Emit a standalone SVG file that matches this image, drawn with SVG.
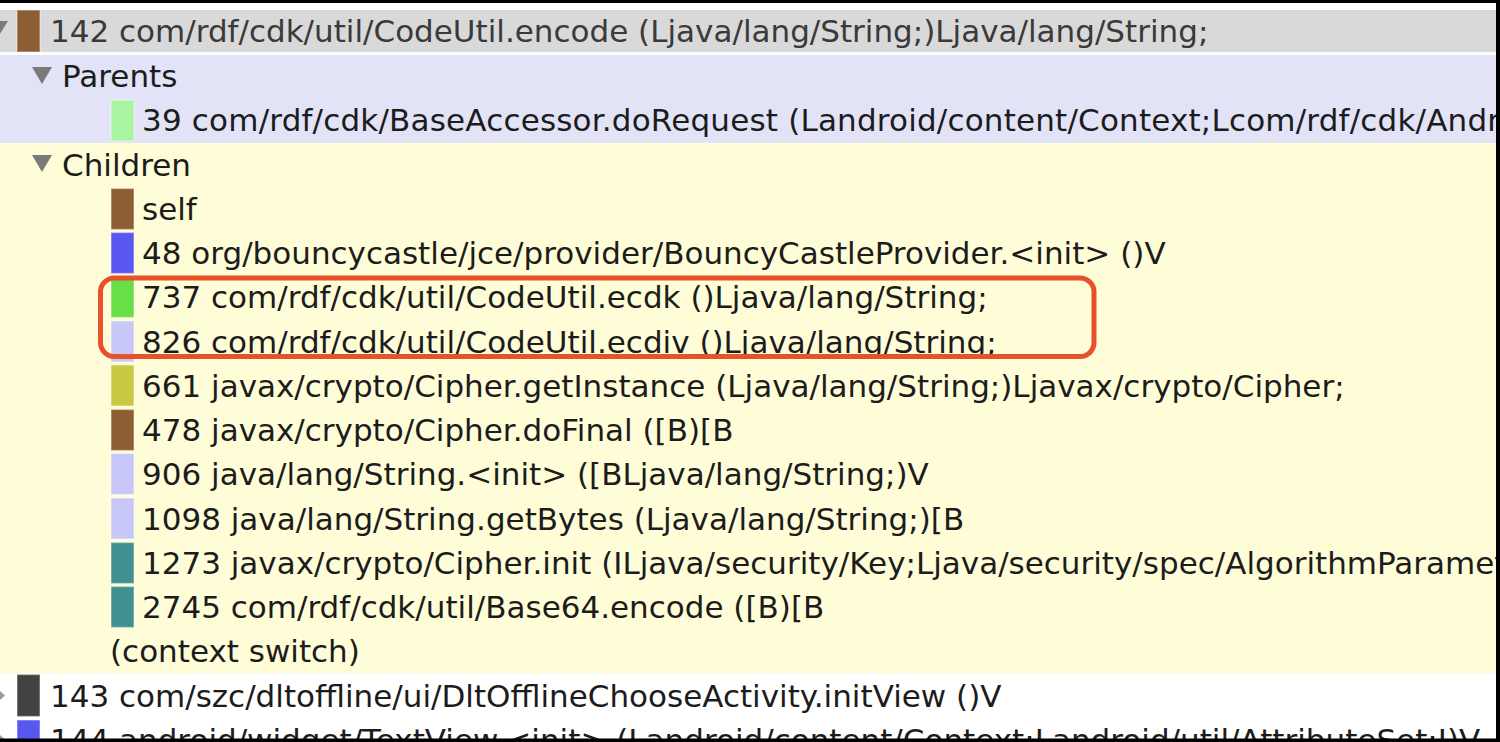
<svg xmlns="http://www.w3.org/2000/svg" width="1500" height="742" viewBox="0 0 1500 742">
<style>
.t{font-family:"DejaVu Sans","Liberation Sans",sans-serif;font-size:31px;fill:#1c1c1c}
.h{fill:#3a3a3a}
.tri{fill:#7a7a7a}
.sq{stroke-width:1.5;stroke-opacity:0.35;stroke:#ffffff}
</style>
<rect x="0" y="0" width="1500" height="742" fill="#ffffff"/>
<!-- bands -->
<rect x="0" y="10" width="1500" height="42" fill="#d9d9d9"/>
<rect x="0" y="55" width="1500" height="88" fill="#e3e3f8"/>
<rect x="0" y="143" width="1500" height="530" fill="#fffdd8"/>

<g id="row-142">
<polygon class="tri" points="-12,21 8,21 -2,37"/>
<rect class="sq" x="17" y="10" width="23" height="42" fill="#8d5e32"/>
<text class="t h" x="50" y="42">142 com/rdf/cdk/util/CodeUtil.encode (Ljava/lang/String;)Ljava/lang/String;</text>
</g>
<g id="parents">
<polygon class="tri" points="32,67 52,67 42,84"/>
<text class="t" x="62" y="87">Parents</text>
</g>
<g id="row-39">
<rect class="sq" x="111" y="100" width="23" height="41" fill="#a8f4a0"/>
<text class="t" x="142" y="131" textLength="1358" lengthAdjust="spacing">39 com/rdf/cdk/BaseAccessor.doRequest (Landroid/content/Context;Lcom/rdf/cdk/Andr</text>
</g>
<g id="children">
<polygon class="tri" points="32,155 52,155 42,172"/>
<text class="t" x="62" y="175.5">Children</text>
</g>
<g id="row-self">
<rect class="sq" x="111" y="188.5" width="23" height="41" fill="#8d5e32"/>
<text class="t" x="142" y="220">self</text>
</g>
<g id="row-48">
<rect class="sq" x="111" y="232.5" width="23" height="41" fill="#5858f0"/>
<text class="t" x="142" y="264">48 org/bouncycastle/jce/provider/BouncyCastleProvider.&lt;init&gt; ()V</text>
</g>
<g id="row-737">
<rect class="sq" x="111" y="276.5" width="23" height="41" fill="#66e044"/>
<text class="t" x="142" y="308">737 com/rdf/cdk/util/CodeUtil.ecdk ()Ljava/lang/String;</text>
</g>
<g id="row-826">
<rect class="sq" x="111" y="321" width="23" height="41" fill="#c8c8f8"/>
<text class="t" x="142" y="352.5">826 com/rdf/cdk/util/CodeUtil.ecdiv ()Ljava/lang/String;</text>
</g>
<g id="row-661">
<rect class="sq" x="111" y="365" width="23" height="41" fill="#cac840"/>
<text class="t" x="142" y="396.5">661 javax/crypto/Cipher.getInstance (Ljava/lang/String;)Ljavax/crypto/Cipher;</text>
</g>
<g id="row-478">
<rect class="sq" x="111" y="409.5" width="23" height="41" fill="#8d5e32"/>
<text class="t" x="142" y="441">478 javax/crypto/Cipher.doFinal ([B)[B</text>
</g>
<g id="row-906">
<rect class="sq" x="111" y="453.5" width="23" height="41" fill="#c8c8f8"/>
<text class="t" x="142" y="485">906 java/lang/String.&lt;init&gt; ([BLjava/lang/String;)V</text>
</g>
<g id="row-1098">
<rect class="sq" x="111" y="498" width="23" height="41" fill="#c8c8f8"/>
<text class="t" x="142" y="529.5">1098 java/lang/String.getBytes (Ljava/lang/String;)[B</text>
</g>
<g id="row-1273">
<rect class="sq" x="111" y="542.5" width="23" height="41" fill="#409090"/>
<text class="t" x="142" y="574">1273 javax/crypto/Cipher.init (ILjava/security/Key;Ljava/security/spec/AlgorithmParamet</text>
</g>
<g id="row-2745">
<rect class="sq" x="111" y="586.5" width="23" height="41" fill="#409090"/>
<text class="t" x="142" y="618">2745 com/rdf/cdk/util/Base64.encode ([B)[B</text>
</g>
<g id="row-context">
<text class="t" x="110" y="662">(context switch)</text>
</g>
<g id="row-143">
<polygon points="0,691 5,695.5 0,700" fill="#9a9a9a"/>
<rect class="sq" x="17" y="674.5" width="23" height="42" fill="#424242"/>
<text class="t" x="50" y="706.5">143 com/szc/dltoffline/ui/DltOfflineChooseActivity.initView ()V</text>
</g>
<g id="row-144">
<polygon points="0,735 5,739.5 0,744" fill="#9a9a9a"/>
<rect class="sq" x="17" y="720" width="23" height="42" fill="#5858f0"/>
<text class="t" x="50" y="751">144 android/widget/TextView.&lt;init&gt; (Landroid/content/Context;Landroid/util/AttributeSet;I)V</text>
</g>
<g id="connectors"></g>
<g id="highlight">
<rect x="100.5" y="278" width="993.5" height="78.5" rx="14" ry="14" fill="none" stroke="#e8522a" stroke-width="5"/>
</g>
<g id="frame">
<rect x="0" y="0" width="1500" height="3" fill="#000"/>
<rect x="1496" y="0" width="4" height="742" fill="#000"/>
<rect x="0" y="738.5" width="1500" height="4" fill="#000"/>
</g>
</svg>
